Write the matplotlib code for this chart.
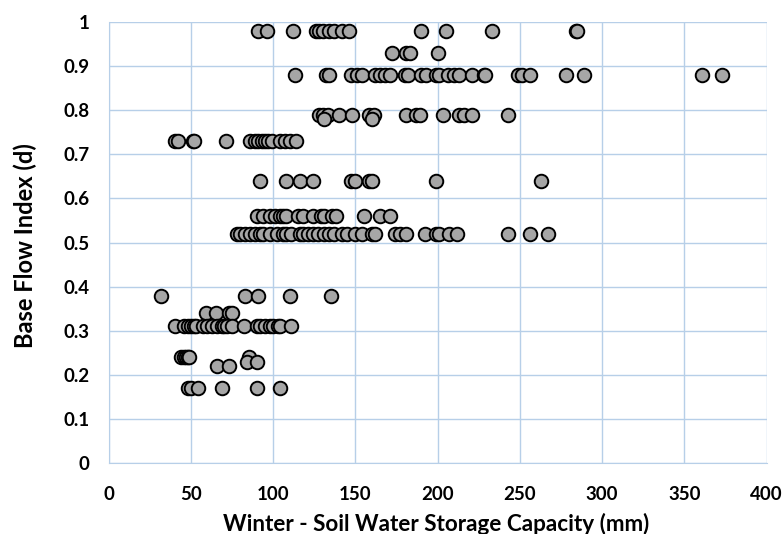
import matplotlib
matplotlib.use("Agg")
import matplotlib.pyplot as plt
import numpy as np

# 各 BFI 档位对应的土壤蓄水量 (mm)
bfi_levels = [0.98, 0.93, 0.88, 0.79, 0.78, 0.73, 0.64, 0.56, 0.52,
              0.38, 0.34, 0.31, 0.24, 0.23, 0.22, 0.17]
swsc_098 = [91, 96, 112, 126, 128, 130, 134, 137, 142, 146, 190, 205, 233, 284, 285]
swsc_093 = [172, 181, 183, 200]
swsc_088 = [113, 132, 134, 147, 151, 154, 162, 165, 168, 171, 180, 182, 190, 193,
            199, 201, 206, 210, 213, 221, 228, 229, 249, 251, 256, 278, 289, 361, 373]
swsc_079 = [128, 130, 133, 140, 148, 158, 161, 181, 187, 189, 203, 213, 216, 221, 243]
swsc_078 = [131, 160]
swsc_073 = [40, 42, 51, 52, 71, 86, 89, 91, 93, 95, 97, 99, 104, 107, 110, 114]
swsc_064 = [92, 108, 116, 124, 147, 150, 158, 160, 199, 263]
swsc_056 = [90, 94, 98, 101, 104, 106, 108, 115, 118, 124, 129, 131, 136, 138,
            155, 165, 171]
swsc_052 = [78, 80, 83, 86, 89, 92, 94, 98, 102, 106, 108, 111, 116, 118, 121, 124,
            127, 131, 134, 137, 142, 145, 150, 154, 160, 162, 174, 177, 181, 192,
            199, 201, 207, 212, 243, 256, 267]
swsc_038 = [32, 83, 91, 110, 135]
swsc_034 = [59, 65, 73, 75]
swsc_031 = [40, 46, 48, 50, 52, 53, 57, 60, 63, 66, 69, 70, 72, 75, 82, 90, 92, 95,
            98, 100, 103, 104, 111]
swsc_024 = [44, 46, 47, 48, 49, 85]
swsc_023 = [84, 90]
swsc_022 = [66, 73]
swsc_017 = [48, 50, 54, 69, 90, 104]

groups = [swsc_098, swsc_093, swsc_088, swsc_079, swsc_078, swsc_073, swsc_064,
          swsc_056, swsc_052, swsc_038, swsc_034, swsc_031, swsc_024, swsc_023,
          swsc_022, swsc_017]

x = np.concatenate([np.array(g, dtype=float) for g in groups])
y = np.concatenate([np.full(len(g), b) for g, b in zip(groups, bfi_levels)])

plt.rcParams['font.family'] = ['Lato', 'DejaVu Sans']

fig = plt.figure(figsize=(7.83, 5.34), dpi=100)
ax = fig.add_axes([0.139, 0.1324, 0.840, 0.8266])

grid_c = '#b7cfe8'
ax.scatter(x, y, s=95, c='#a6a6a6', edgecolors='black', linewidths=1.4, zorder=3)

ax.set_xlim(0, 400)
ax.set_ylim(0, 1)
ax.set_xticks(np.arange(0, 401, 50))
ax.set_yticks(np.arange(0, 1.01, 0.1))
ax.set_yticklabels(['0', '0.1', '0.2', '0.3', '0.4', '0.5', '0.6', '0.7', '0.8', '0.9', '1'])
ax.grid(True, color=grid_c, linewidth=1)
ax.set_axisbelow(True)
for s in ['top', 'right']:
    ax.spines[s].set_visible(False)
for s in ['left', 'bottom']:
    ax.spines[s].set_color(grid_c)
ax.tick_params(axis='x', length=0, labelsize=13.5, pad=16)
ax.tick_params(axis='y', length=0, labelsize=13.5, pad=14)
for lab in ax.get_xticklabels() + ax.get_yticklabels():
    lab.set_fontweight('bold')

ax.set_xlabel('Winter - Soil Water Storage Capacity (mm)', fontsize=16.2,
              fontweight='bold', va='baseline')
ax.xaxis.set_label_coords(0.498, -0.153)
ax.set_ylabel('Base Flow Index (d)', fontsize=17, fontweight='bold', va='center')
ax.yaxis.set_label_coords(-0.127, 0.493)

fig.savefig('out.png', dpi=100)
